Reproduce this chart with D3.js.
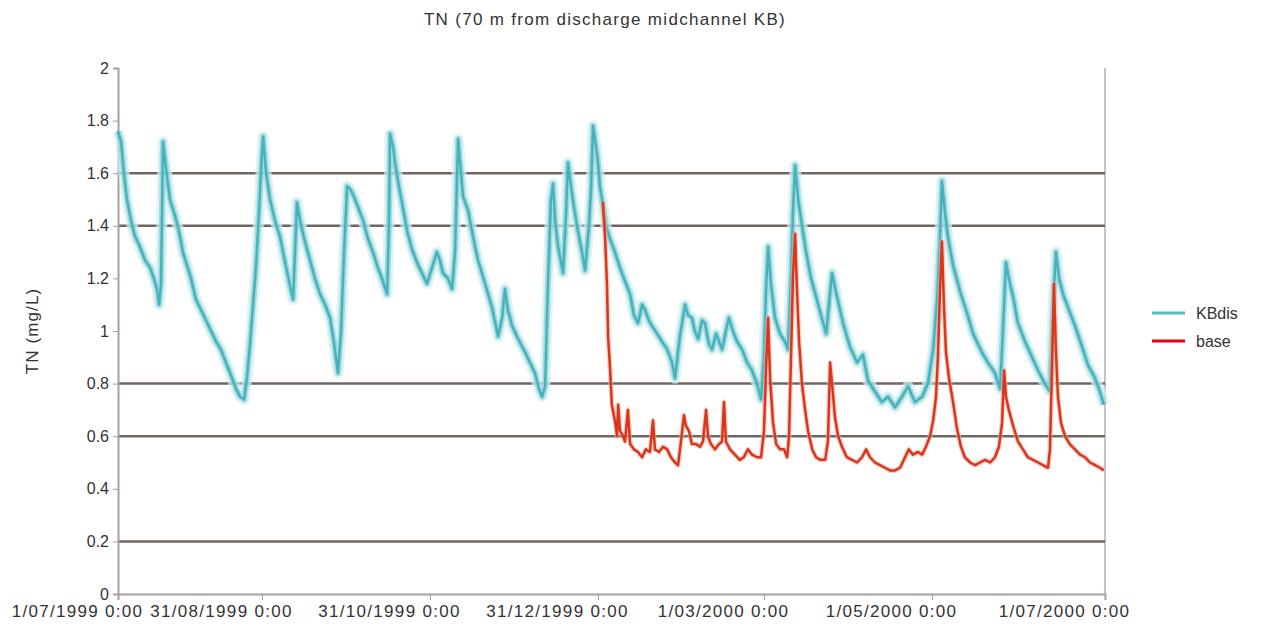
<!DOCTYPE html>
<html>
<head>
<meta charset="utf-8">
<script src="https://cdn.jsdelivr.net/npm/d3@7"></script>
<style>
  body { margin: 0; background: #fff; }
  text { font-family: "Liberation Sans", Arial, sans-serif; fill: #333; }
</style>
</head>
<body>
<div id="viz"></div>
<script>
// x axis labels (every 61 days) and y axis ticks
var tickDates = ["1999-07-01", "1999-08-31", "1999-10-31", "1999-12-31", "2000-03-01", "2000-05-01", "2000-07-01"];
var yTicks = [0, 0.2, 0.4, 0.6, 0.8, 1, 1.2, 1.4, 1.6, 1.8, 2];
var gridValues = [0.2, 0.6, 0.8, 1.4, 1.6];

// KBdis series : days since 1/07/1999 and TN (mg/L)
var kbDay = [0.0, 1.3, 2.5, 3.8, 5.5, 7.2, 9.3, 11.4, 13.6, 15.2, 16.5, 17.4, 18.2, 19.1, 20.3, 22.0, 24.1, 25.8, 27.5, 29.2,
  30.9, 33.0, 35.2, 37.3, 39.4, 41.5, 43.6, 45.7, 47.9, 50.0, 51.7, 53.4, 54.6, 55.9, 57.2, 58.5, 59.7, 61.0,
  61.4, 62.5, 63.9, 65.7, 67.5, 69.4, 71.2, 72.3, 73.7, 74.8, 76.6, 78.4, 80.2, 82.1, 83.9, 85.7, 87.1, 88.6, 89.7,
  90.8, 91.9, 93.0, 94.0, 95.9, 97.7, 99.5, 101.3, 103.1, 104.9, 106.4, 107.1, 107.5, 108.6, 109.3, 110.7, 111.8,
  113.7, 115.5, 117.3, 119.1, 120.9,
  122.7, 124.5, 125.6, 126.7, 128.5, 130.0, 131.1, 132.2, 132.9, 134.0, 135.8, 137.6, 139.4, 142.0, 144.5, 146.7,
  148.2, 149.2, 150.3, 151.8, 154.0, 156.5, 158.3, 160.1, 161.6, 162.7, 163.8, 164.8, 165.9, 166.7, 167.4, 168.5,
  169.6, 170.3, 171.4, 172.1, 173.2, 174.3, 175.7, 177.2, 178.3, 179.7, 180.5, 181.2, 182.3,
  183.0, 183.7, 184.8, 185.9, 187.4, 189.2, 191.1, 192.9, 194.8, 196.2, 197.7, 199.2, 200.3, 201.7, 202.8, 204.7,
  206.5, 208.4, 210.2, 211.3, 213.1, 215.0, 216.1, 217.5, 218.6, 219.8, 221.2, 222.3, 223.8, 224.9, 226.4, 227.5,
  228.6, 230.0, 231.1, 232.6, 234.1, 235.9, 237.8, 239.6, 241.4, 242.9, 244.0,
  244.7, 245.5, 246.5, 248.0, 249.8, 251.6, 252.7, 253.8, 254.5, 255.3, 256.4, 257.8, 259.3, 261.1, 262.9, 264.7,
  266.6, 267.6, 268.7, 270.5, 272.7, 275.2, 277.8, 279.9, 281.8, 284.3, 286.8, 289.0, 291.6, 294.1, 296.3, 298.8,
  301.4, 303.5,
  305.4, 306.8, 307.8, 308.5, 309.6, 310.6, 312.4, 314.9, 317.3, 319.5, 321.2, 322.6, 324.7, 327.2, 329.0, 330.0,
  331.1, 332.1, 333.6, 335.3, 337.8, 340.3, 342.4, 344.8, 346.6, 347.7, 348.7, 349.8, 351.5, 353.3, 355.4, 357.9,
  360.0, 362.5, 364.2, 365.6];
var kbVal = [1.76, 1.72, 1.6, 1.5, 1.42, 1.36, 1.32, 1.27, 1.24, 1.2, 1.16, 1.1, 1.18, 1.72, 1.62, 1.5, 1.44, 1.38, 1.3, 1.25,
  1.2, 1.12, 1.08, 1.04, 1.0, 0.96, 0.93, 0.88, 0.83, 0.78, 0.75, 0.74, 0.82, 0.95, 1.1, 1.25, 1.45, 1.68,
  1.74, 1.6, 1.5, 1.42, 1.36, 1.26, 1.17, 1.12, 1.49, 1.42, 1.34, 1.27, 1.2, 1.14, 1.1, 1.05, 0.96, 0.84, 1.0,
  1.3, 1.55, 1.54, 1.52, 1.47, 1.42, 1.35, 1.3, 1.24, 1.19, 1.14, 1.4, 1.75, 1.7, 1.64, 1.55, 1.49,
  1.38, 1.31, 1.26, 1.22, 1.18,
  1.24, 1.3, 1.27, 1.22, 1.2, 1.16, 1.3, 1.73, 1.64, 1.51, 1.46, 1.36, 1.27, 1.18, 1.09, 0.98,
  1.05, 1.16, 1.08, 1.02, 0.97, 0.92, 0.88, 0.84, 0.78, 0.75, 0.79, 1.17, 1.5, 1.56, 1.42, 1.32,
  1.26, 1.22, 1.45, 1.64, 1.55, 1.47, 1.38, 1.3, 1.23, 1.4, 1.55, 1.78, 1.7,
  1.64, 1.55, 1.48, 1.4, 1.35, 1.3, 1.24, 1.19, 1.14, 1.06, 1.03, 1.1, 1.08, 1.04, 1.02, 0.99,
  0.96, 0.93, 0.88, 0.82, 0.98, 1.1, 1.06, 1.05, 1.0, 0.97, 1.04, 1.03, 0.95, 0.93, 0.99, 0.96,
  0.93, 1.0, 1.05, 1.0, 0.96, 0.93, 0.88, 0.85, 0.8, 0.74, 0.9,
  1.15, 1.32, 1.18, 1.05, 0.99, 0.96, 0.93, 1.2, 1.45, 1.63, 1.5, 1.4, 1.3, 1.2, 1.13, 1.06,
  0.99, 1.1, 1.22, 1.13, 1.03, 0.94, 0.88, 0.91, 0.81, 0.77, 0.73, 0.75, 0.71, 0.75, 0.79, 0.73,
  0.75, 0.8,
  0.93, 1.12, 1.35, 1.57, 1.45, 1.36, 1.25, 1.15, 1.07, 0.99, 0.95, 0.92, 0.88, 0.84, 0.78, 1.0,
  1.26, 1.2, 1.13, 1.03, 0.96, 0.9, 0.85, 0.8, 0.77, 1.1, 1.3, 1.2, 1.13, 1.08, 1.02, 0.94,
  0.87, 0.82, 0.77, 0.72];

// base series
var baseDay = [184.8, 185.6, 186.3, 186.7, 187.4, 188.1, 189.2, 190.0, 190.4, 191.1, 192.2, 192.9, 194.0, 194.8, 196.2,
  197.7, 199.2, 200.6, 202.1, 203.2, 203.9, 205.4, 206.9, 208.4, 209.8, 211.3, 212.4, 213.5, 214.6, 215.3, 216.4,
  217.5, 219.0, 220.5, 221.6, 222.7, 223.4, 224.5, 226.0, 227.5, 228.6, 229.3, 230.0, 231.5, 233.3, 235.1, 236.6,
  238.1, 239.6, 241.4, 242.9,
  244.0, 244.7, 245.5, 246.2, 247.3, 248.4, 249.8, 251.3, 252.4, 253.1, 253.8, 254.5, 255.3, 256.0, 256.8, 257.8,
  258.9, 260.0, 261.5, 262.9, 264.4, 266.2, 267.2, 268.0, 268.7, 269.8, 270.9, 272.3, 274.1, 276.0, 277.8, 279.6,
  281.1, 282.5, 284.3, 286.1, 287.9, 289.7, 291.6, 293.4, 295.2, 296.6, 298.1, 299.9, 301.4, 302.8, 304.3,
  305.4, 306.4, 307.1, 307.8, 308.5, 309.2, 309.9, 311.0, 312.4, 313.8, 315.2, 316.6, 318.4, 320.2, 321.9, 323.7,
  325.5, 327.2, 328.6, 329.7, 330.4, 331.1, 332.1, 333.6, 335.3, 337.1, 338.8, 340.6, 342.4, 344.1, 345.9, 346.6,
  347.3, 348.0, 348.7, 349.4, 350.5, 351.9, 353.6, 355.4, 357.2, 358.9, 360.7, 362.5, 364.2, 365.6];
var baseVal = [1.49, 1.36, 1.18, 0.98, 0.86, 0.72, 0.66, 0.6, 0.72, 0.62, 0.6, 0.58, 0.7, 0.57, 0.55,
  0.54, 0.52, 0.55, 0.54, 0.66, 0.55, 0.54, 0.56, 0.55, 0.52, 0.5, 0.49, 0.58, 0.68, 0.64, 0.62,
  0.57, 0.57, 0.56, 0.58, 0.7, 0.6, 0.57, 0.55, 0.57, 0.58, 0.73, 0.58, 0.55, 0.53, 0.51, 0.52,
  0.55, 0.53, 0.52, 0.52,
  0.62, 0.85, 1.05, 0.82, 0.65, 0.57, 0.55, 0.55, 0.52, 0.6, 0.9, 1.2, 1.37, 1.15, 0.95, 0.8,
  0.7, 0.62, 0.55, 0.52, 0.51, 0.51, 0.58, 0.88, 0.8, 0.67, 0.6, 0.56, 0.52, 0.51, 0.5, 0.52,
  0.55, 0.52, 0.5, 0.49, 0.48, 0.47, 0.47, 0.48, 0.52, 0.55, 0.53, 0.54, 0.53, 0.56, 0.6,
  0.66, 0.75, 0.9, 1.15, 1.34, 1.1, 0.92, 0.82, 0.73, 0.63, 0.56, 0.52, 0.5, 0.49, 0.5, 0.51,
  0.5, 0.52, 0.56, 0.65, 0.85, 0.75, 0.7, 0.64, 0.58, 0.55, 0.52, 0.51, 0.5, 0.49, 0.48, 0.55,
  0.85, 1.18, 0.92, 0.75, 0.65, 0.6, 0.57, 0.55, 0.53, 0.52, 0.5, 0.49, 0.48, 0.47];

var W = 1264, H = 628;
var plot = {left: 118, right: 1105, top: 68, bottom: 594};
var font = "Liberation Sans, Arial, sans-serif";

var svg = d3.select("#viz").append("svg")
    .attr("width", W)
    .attr("height", H);

var parse = d3.timeParse("%Y-%m-%d");
var start = parse(tickDates[0]);
var ticks = tickDates.map(parse);

// the original axis is not evenly spaced on the first interval
var x = d3.scaleTime()
    .domain(ticks)
    .range([118, 262, 430, 598, 764, 932, 1105]);
var y = d3.scaleLinear()
    .domain([0, 2])
    .range([plot.bottom, plot.top]);

function toDate(d) { return d3.timeHour.offset(start, Math.round(d * 24)); }
var kbData = kbDay.map(function(d, i) { return {date: toDate(d), v: kbVal[i]}; });
var baseData = baseDay.map(function(d, i) { return {date: toDate(d), v: baseVal[i]}; });

// title
svg.append("text")
    .attr("x", 605).attr("y", 25)
    .attr("text-anchor", "middle")
    .style("font-size", "17px")
    .style("letter-spacing", "1.3px")
    .text("TN (70 m from discharge midchannel KB)");

// y axis title
svg.append("text")
    .attr("transform", "translate(38," + ((plot.top + plot.bottom) / 2) + ") rotate(-90)")
    .attr("text-anchor", "middle")
    .style("font-size", "17px")
    .style("letter-spacing", "1.1px")
    .text("TN (mg/L)");

// frame on the right
svg.append("line")
    .attr("x1", plot.right).attr("x2", plot.right)
    .attr("y1", plot.top).attr("y2", plot.bottom)
    .attr("stroke", "#c9c2be").attr("stroke-width", 2);

// gridlines
svg.append("g").selectAll("line")
  .data(gridValues)
  .enter().append("line")
    .attr("x1", plot.left).attr("x2", plot.right)
    .attr("y1", function(d) { return y(d); })
    .attr("y2", function(d) { return y(d); })
    .attr("stroke", "#6f6662")
    .attr("stroke-width", 2.5);

// y axis
var yAxis = svg.append("g")
    .attr("transform", "translate(" + plot.left + ",0)")
    .call(d3.axisLeft(y).tickValues(yTicks).tickSize(5).tickPadding(4).tickFormat(d3.format("")));
yAxis.select(".domain").attr("stroke", "#a79f9b").attr("stroke-width", 2);
yAxis.selectAll(".tick line").attr("stroke", "#a79f9b");
yAxis.selectAll(".tick text").style("font-size", "16px").attr("fill", "#333").style("font-family", font);

// x axis
var fmt = d3.timeFormat("%-d/%m/%Y %-H:%M");
var xAxis = svg.append("g")
    .attr("transform", "translate(0," + plot.bottom + ")")
    .call(d3.axisBottom(x).tickValues(ticks).tickSize(6).tickPadding(5).tickFormat(fmt));
xAxis.select(".domain").attr("stroke", "#a79f9b").attr("stroke-width", 2);
xAxis.selectAll(".tick line").attr("stroke", "#a79f9b");
xAxis.selectAll(".tick text")
    .attr("dx", -41)
    .style("font-size", "17px")
    .style("letter-spacing", "1.3px")
    .attr("fill", "#333")
    .style("font-family", font);

var line = d3.line()
    .x(function(d) { return x(d.date); })
    .y(function(d) { return y(d.v); });

// KBdis drawn as a soft band with a darker core
var kbLayers = [
  {color: "#d3eef0", width: 11, opacity: 0.7},
  {color: "#8ccfd4", width: 6, opacity: 0.7},
  {color: "#3aaeb7", width: 2.5, opacity: 0.9}
];
svg.append("g").selectAll("path")
  .data(kbLayers)
  .enter().append("path")
    .attr("fill", "none")
    .attr("stroke", function(d) { return d.color; })
    .attr("stroke-width", function(d) { return d.width; })
    .attr("opacity", function(d) { return d.opacity; })
    .attr("stroke-linejoin", "round")
    .attr("d", function() { return line(kbData); });

svg.append("path")
    .datum(baseData)
    .attr("fill", "none")
    .attr("stroke", "#f0b3a6")
    .attr("stroke-width", 5)
    .attr("stroke-linejoin", "round")
    .attr("opacity", 0.6)
    .attr("d", line);
svg.append("path")
    .datum(baseData)
    .attr("fill", "none")
    .attr("stroke", "#d9361b")
    .attr("stroke-width", 2.5)
    .attr("stroke-linejoin", "round")
    .attr("d", line);

// legend
var legend = [{name: "KBdis", color: "#4fc0c6"}, {name: "base", color: "#e2001a"}];
var lg = svg.append("g").selectAll("g")
  .data(legend)
  .enter().append("g")
    .attr("transform", function(d, i) { return "translate(1152," + (313 + i * 28) + ")"; });
lg.append("line")
    .attr("x1", 0).attr("x2", 33)
    .attr("stroke", function(d) { return d.color; })
    .attr("stroke-width", 3);
lg.append("text")
    .attr("x", 44).attr("y", 6)
    .style("font-size", "16px")
    .text(function(d) { return d.name; });
</script>
</body>
</html>
